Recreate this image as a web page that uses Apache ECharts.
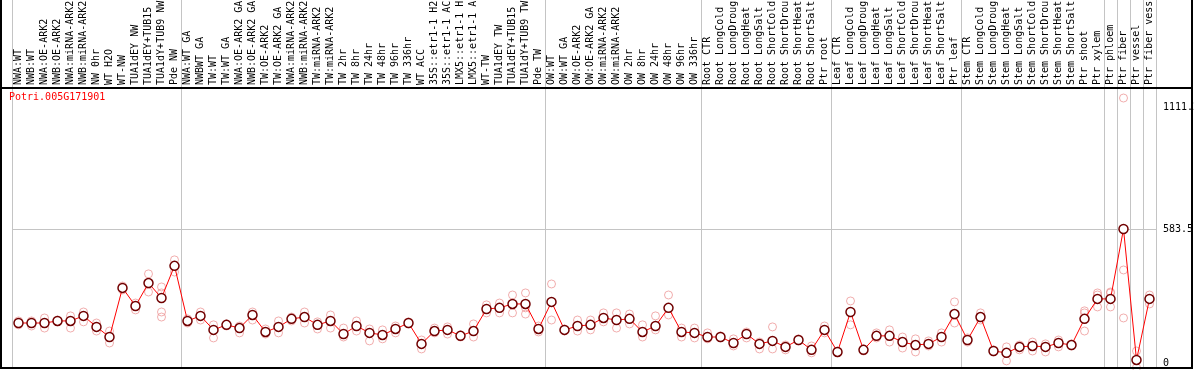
<!DOCTYPE html>
<html>
  <head>
    <title></title>
    <meta charset="UTF-8" />
    <script src="https://cdn.jsdelivr.net/npm/echarts@6/dist/echarts.min.js"></script>
  </head>
  <body style="margin:0">
    <div id="main"></div>
    <script>
      const width = 1194;
      const height = 370;
      const main = document.getElementById('main');
      main.style.width = `${width}px`;
      main.style.height = `${height}px`;

      const geneId = 'Potri.005G171901';

      const categories = [
        'NWA:WT', 'NWB:WT', 'NWA:OE-ARK2', 'NWB:OE-ARK2', 'NWA:miRNA-ARK2', 'NWB:miRNA-ARK2',
        'NW 0hr', 'WT H2O', 'WT-NW', 'TUA1dEY NW', 'TUA1dEY+TUB15', 'TUA1dY+TUB9 NW', 'Pde NW',
        'NWA:WT GA', 'NWBWT GA', 'TW:WT', 'TW:WT GA', 'NWA:OE-ARK2 GA', 'NWB:OE-ARK2 GA',
        'TW:OE-ARK2', 'TW:OE-ARK2 GA', 'NWA:miRNA-ARK2', 'NWB:miRNA-ARK2', 'TW:miRNA-ARK2',
        'TW:miRNA-ARK2', 'TW 2hr', 'TW 8hr', 'TW 24hr', 'TW 48hr', 'TW 96hr', 'TW 336hr',
        'WT ACC', '35S::etr1-1 H2', '35S::etr1-1 AC', 'LMX5::etr1-1 H', 'LMX5::etr1-1 A',
        'WT-TW', 'TUA1dEY TW', 'TUA1dEY+TUB15', 'TUA1dY+TUB9 TW', 'Pde TW',
        'OW:WT', 'OW:WT GA', 'OW:OE-ARK2', 'OW:OE-ARK2 GA', 'OW:miRNA-ARK2', 'OW:miRNA-ARK2',
        'OW 2hr', 'OW 8hr', 'OW 24hr', 'OW 48hr', 'OW 96hr', 'OW 336hr',
        'Root CTR', 'Root LongCold', 'Root LongDroug', 'Root LongHeat', 'Root LongSalt',
        'Root ShortCold', 'Root ShortDrou', 'Root ShortHeat', 'Root ShortSalt', 'Ptr root',
        'Leaf CTR', 'Leaf LongCold', 'Leaf LongDroug', 'Leaf LongHeat', 'Leaf LongSalt',
        'Leaf ShortCold', 'Leaf ShortDrou', 'Leaf ShortHeat', 'Leaf ShortSalt', 'Ptr leaf',
        'Stem CTR', 'Stem LongCold', 'Stem LongDroug', 'Stem LongHeat', 'Stem LongSalt',
        'Stem ShortCold', 'Stem ShortDrou', 'Stem ShortHeat', 'Stem ShortSalt', 'Ptr shoot',
        'Ptr xylem', 'Ptr phloem', 'Ptr fiber', 'Ptr vessel', 'Ptr fiber vess'
      ];

      // first category index of every sample group (grey separators)
      const groupStarts = [0, 13, 41, 53, 63, 73, 84, 85, 86, 87];

      const means = [
        174, 174, 174, 183, 183, 205, 157, 113, 327, 248, 348, 283, 423,
        183, 205, 144, 166, 152, 209, 135, 157, 192, 200, 166, 183, 126, 161, 131, 122, 148, 174,
        83, 139, 144, 118, 139, 235, 240, 257, 257, 148,
        266, 144, 161, 166, 196, 187, 192, 135, 161, 240, 135, 131,
        113, 113, 87, 126, 83, 96, 70, 100, 57, 144,
        48, 222, 57, 118, 118, 91, 78, 83, 113, 213,
        100, 200, 52, 44, 70, 74, 70, 87, 78, 192, 279,
        279, 583.5, 13, 279
      ];

      const reps = [
        [183, 166], [183, 161], [196, 152], [187, 179], [205, 152], [222, 179],
        [174, 139], [139, 87], [335, 318], [261, 231], [388, 309], [331, 305, 222, 200], [449, 396],
        [174, 192], [222, 187], [166, 109], [170, 161], [161, 131], [222, 187],
        [148, 126], [183, 131], [200, 183], [222, 174], [179, 148],
        [209, 152], [152, 113], [183, 139], [148, 96], [144, 105], [161, 131], [179, 170],
        [100, 61], [152, 131], [157, 126], [122, 113], [170, 113],
        [253, 218], [261, 218], [296, 218], [305, 213, 240], [135, 161],
        [344, 187], [148, 139], [187, 139], [187, 144], [218, 179], [218, 152],
        [213, 170], [166, 113], [205, 144], [296, 209], [152, 113], [152, 109],
        [131, 105], [118, 109], [105, 74], [135, 109], [91, 61],
        [157, 61], [78, 57], [105, 96], [74, 44], [161, 131],
        [52, 44], [270, 166], [61, 52], [131, 109], [144, 91],
        [113, 65], [105, 48], [96, 74], [131, 91], [266, 174],
        [109, 91], [218, 187], [57, 48], [70, 9], [78, 57],
        [91, 52], [83, 48], [100, 70], [83, 74], [227, 218, 139],
        [305, 296, 244], [309, 305, 244], [1154, 405, 196], [52, -20], [296, 257]
      ];

      const yLabels = [0, 583.5, 1111.2];

      const repPoints = [];
      reps.forEach((list, i) => list.forEach(v => repPoints.push([i, v])));

      const font = 'DejaVu Sans Mono';

      const myChart = echarts.init(main);
      const option = {
        animation: false,
        title: {
          text: geneId,
          left: 9,
          top: 92,
          padding: 0,
          textStyle: { color: '#ff0000', fontSize: 10, fontWeight: 'normal', fontFamily: font }
        },
        grid: {
          left: 12,
          right: 38,
          top: 0,
          bottom: 2,
          outerBoundsMode: 'none'
        },
        xAxis: {
          type: 'category',
          data: categories,
          position: 'top',
          offset: -88,
          boundaryGap: true,
          axisLine: { show: false, onZero: false },
          axisTick: { show: false },
          axisLabel: {
            interval: 0,
            rotate: -90,
            margin: 3,
            fontFamily: font,
            fontSize: 10,
            color: '#000'
          },
          splitLine: {
            show: true,
            interval: i => groupStarts.includes(i),
            lineStyle: { color: '#c4c4c4', width: 1 }
          }
        },
        yAxis: {
          type: 'value',
          position: 'right',
          min: -22,
          max: 1581,
          axisLine: { show: false },
          axisTick: { show: false },
          splitLine: { show: false },
          axisLabel: {
            customValues: yLabels,
            margin: 7,
            fontFamily: font,
            fontSize: 10,
            color: '#000',
            formatter: v => String(v)
          }
        },
        graphic: [
          {
            type: 'rect',
            shape: { x: 1, y: -5, width: 1191, height: 373 },
            style: { fill: null, stroke: '#000', lineWidth: 2 },
            z: 100
          },
          {
            type: 'line',
            shape: { x1: 0, y1: 88, x2: 1192, y2: 88 },
            style: { stroke: '#000', lineWidth: 2 },
            z: 100
          }
        ],
        series: [
          {
            type: 'scatter',
            data: repPoints,
            symbol: 'circle',
            symbolSize: 8,
            itemStyle: { color: 'rgba(0,0,0,0)', borderColor: '#ee9999', borderWidth: 1 },
            z: 2
          },
          {
            type: 'line',
            data: means,
            symbol: 'circle',
            symbolSize: 9,
            lineStyle: { color: '#ff0000', width: 1 },
            itemStyle: { color: '#ffffff', borderColor: '#700000', borderWidth: 1.5 },
            z: 3,
            markLine: {
              silent: true,
              symbol: 'none',
              label: { show: false },
              lineStyle: { color: '#c4c4c4', type: 'solid', width: 1 },
              data: [{ yAxis: 583.5 }],
              z: 1
            }
          }
        ]
      };
      myChart.setOption(option);
    </script>
  </body>
</html>
